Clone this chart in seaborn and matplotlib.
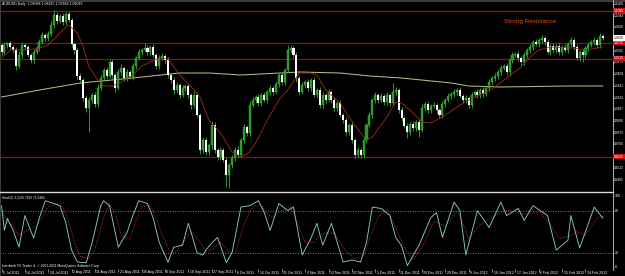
import numpy as np
import matplotlib
matplotlib.use("Agg")
import matplotlib.pyplot as plt
import matplotlib.transforms as mtrans
from matplotlib.lines import Line2D
from matplotlib.patches import Rectangle
import seaborn as sns

sns.set_style("dark", {"axes.facecolor": "black", "figure.facecolor": "black"})
plt.rcParams['font.family'] = ['Liberation Sans', 'DejaVu Sans']

# ---------------- data (AUDUSD daily) ----------------
first_open = 1.075
close = [
    1.068, 1.075, 1.077, 1.073, 1.070, 1.054, 1.065, 1.075, 1.073, 1.065,
    1.060, 1.068, 1.072, 1.078, 1.085, 1.082, 1.086, 1.095, 1.105, 1.099,
    1.104, 1.098, 1.106, 1.100, 1.076, 1.070, 1.044, 1.040, 1.022, 1.012,
    1.020, 1.025, 1.016, 1.032, 1.042, 1.050, 1.044, 1.058, 1.045, 1.032,
    1.048, 1.052, 1.042, 1.048, 1.043, 1.054, 1.062, 1.068, 1.070, 1.072,
    1.068, 1.073, 1.065, 1.054, 1.062, 1.064, 1.060, 1.045, 1.040, 1.030,
    1.035, 1.025, 1.032, 1.034, 1.025, 1.015, 1.025, 1.005, 0.970, 0.980,
    0.968, 0.975, 0.995, 0.970, 0.963, 0.970, 0.960, 0.945, 0.955, 0.962,
    0.970, 0.965, 0.980, 0.993, 0.987, 1.015, 1.020, 1.023, 1.017, 1.025,
    1.020, 1.028, 1.032, 1.028, 1.036, 1.045, 1.038, 1.050, 1.070, 1.072,
    1.065, 1.042, 1.028, 1.035, 1.038, 1.032, 1.040, 1.025, 1.030, 1.015,
    1.025, 1.020, 1.028, 1.020, 1.012, 1.017, 1.005, 1.000, 0.988, 0.995,
    0.980, 0.965, 0.970, 0.965, 0.980, 0.995, 1.005, 1.020, 1.025, 1.020,
    1.024, 1.018, 1.025, 1.017, 1.028, 1.030, 1.010, 1.002, 0.994, 0.988,
    0.996, 0.992, 0.998, 0.990, 1.012, 1.016, 1.010, 1.014, 1.015, 1.010,
    1.005, 1.016, 1.020, 1.024, 1.026, 1.028, 1.030, 1.024, 1.020, 1.022,
    1.015, 1.025, 1.028, 1.025, 1.030, 1.026, 1.032, 1.038, 1.042, 1.044,
    1.048, 1.052, 1.054, 1.048, 1.060, 1.065, 1.066, 1.062, 1.058, 1.065,
    1.070, 1.073, 1.078, 1.076, 1.080, 1.082, 1.078, 1.068, 1.074, 1.070,
    1.074, 1.068, 1.073, 1.070, 1.076, 1.080, 1.073, 1.062, 1.068, 1.065,
    1.072, 1.075, 1.078, 1.080, 1.075, 1.084, 1.082,
]
# upper / lower shadow lengths in pips
wick_up = [
    20, 30, 15, 25, 20, 30, 40, 35, 20, 25,
    20, 30, 25, 30, 35, 20, 30, 40, 50, 30,
    25, 30, 20, 30, 20, 25, 20, 30, 20, 35,
    30, 20, 30, 40, 30, 25, 30, 20, 35, 20,
    30, 40, 20, 30, 25, 30, 20, 30, 20, 50,
    30, 20, 35, 20, 30, 30, 25, 30, 20, 30,
    35, 20, 30, 25, 30, 20, 40, 30, 20, 35,
    30, 20, 40, 30, 25, 30, 20, 30, 25, 30,
    30, 40, 20, 30, 20, 40, 30, 25, 30, 20,
    30, 20, 35, 20, 30, 25, 30, 20, 50, 30,
    25, 30, 20, 35, 20, 30, 25, 30, 20, 30,
    35, 20, 30, 25, 30, 20, 30, 25, 30, 20,
    30, 20, 30, 25, 30, 20, 35, 20, 30, 25,
    30, 20, 35, 25, 90, 30, 20, 30, 25, 30,
    20, 30, 25, 30, 40, 20, 30, 25, 30, 20,
    25, 30, 20, 35, 20, 30, 25, 30, 20, 30,
    20, 35, 20, 30, 25, 30, 20, 30, 25, 30,
    20, 30, 25, 30, 20, 35, 20, 30, 25, 30,
    20, 30, 25, 30, 20, 30, 25, 35, 20, 30,
    25, 30, 20, 35, 20, 30, 25, 30, 20, 30,
    25, 30, 20, 30, 25, 30, 20,
]
wick_dn = [
    25, 20, 30, 20, 30, 35, 20, 25, 30, 20,
    30, 25, 20, 30, 20, 30, 25, 20, 30, 25,
    20, 30, 25, 20, 30, 35, 40, 30, 25, 40,
    240, 30, 25, 30, 20, 25, 30, 20, 30, 35,
    20, 30, 25, 30, 20, 25, 30, 20, 30, 20,
    30, 25, 20, 30, 25, 20, 30, 25, 30, 35,
    30, 25, 20, 30, 25, 35, 30, 20, 40, 30,
    30, 25, 40, 30, 25, 30, 20, 120, 130, 30,
    25, 30, 20, 30, 25, 30, 20, 30, 25, 30,
    20, 30, 25, 30, 20, 30, 25, 30, 20, 30,
    25, 35, 30, 20, 30, 25, 30, 20, 30, 25,
    30, 25, 20, 30, 25, 30, 20, 30, 25, 30,
    30, 25, 30, 30, 25, 30, 20, 30, 25, 30,
    20, 30, 25, 30, 20, 30, 25, 30, 20, 60,
    30, 25, 30, 70, 20, 30, 25, 30, 20, 30,
    30, 25, 30, 20, 30, 25, 30, 20, 30, 25,
    30, 25, 20, 30, 25, 30, 20, 30, 25, 30,
    25, 30, 20, 30, 25, 30, 20, 25, 30, 25,
    30, 25, 30, 20, 30, 25, 30, 20, 30, 25,
    30, 25, 30, 20, 30, 25, 30, 20, 30, 70,
    25, 30, 20, 30, 25, 30, 20,
]

ma_fast_bar = [0, 3, 12, 16, 20, 23, 26, 28, 30, 33, 35, 38, 41, 45, 48, 51, 54, 57, 59, 61,
               66, 68, 71, 75, 79, 82, 85, 88, 91, 95, 98, 102, 106, 108, 111, 116, 119, 123, 125, 127,
               132, 135, 137, 141, 144, 147, 151, 156, 160, 168, 173, 178, 181, 184, 188, 196, 200, 206]
ma_fast_val = [1.062, 1.070, 1.071, 1.075, 1.087, 1.095, 1.087, 1.073, 1.053, 1.040,
               1.034, 1.034, 1.038, 1.045, 1.054, 1.058, 1.062, 1.061, 1.053, 1.045,
               1.030, 1.023, 1.000, 0.987, 0.968, 0.963, 0.968, 0.982, 1.000, 1.020,
               1.030, 1.047, 1.047, 1.045, 1.030, 1.017, 1.003, 0.987, 0.980, 0.983,
               1.003, 1.018, 1.017, 1.007, 0.998, 0.997, 1.003, 1.013, 1.020, 1.031,
               1.042, 1.053, 1.063, 1.070, 1.073, 1.072, 1.070, 1.073]
ma_slow_bar = [0, 13, 27, 45, 61, 71, 82, 102, 116, 126, 137, 154, 160, 171, 194, 206]
ma_slow_val = [1.023, 1.030, 1.037, 1.042, 1.047, 1.047, 1.045, 1.048, 1.047, 1.044,
               1.042, 1.037, 1.034, 1.033, 1.034, 1.034]

stoch_main_bar = [0, 1, 2, 4, 6, 8, 11, 13, 15, 18, 20, 22, 24, 26, 29, 31, 34, 35, 37, 40,
                  43, 45, 47, 50, 52, 54, 57, 59, 62, 64, 67, 69, 70, 72, 74, 77, 79, 82, 85, 88,
                  90, 92, 95, 98, 100, 103, 106, 108, 110, 113, 117, 120, 123, 125, 127, 130, 133, 135, 137, 139,
                  143, 147, 149, 151, 155, 157, 159, 163, 167, 171, 173, 177, 179, 182, 187, 190, 194, 195, 198, 203,
                  206]
stoch_main_val = [87, 52, 69, 52, 28, 73, 41, 70, 94, 90, 87, 63, 24, 7, 6, 34, 87, 94, 87, 28,
                  49, 73, 94, 90, 69, 35, 7, 28, 31, 62, 20, 17, 24, 34, 42, 6, 21, 85, 87, 94,
                  77, 52, 90, 80, 85, 17, 41, 62, 31, 62, 7, 10, 7, 35, 85, 83, 73, 42, 30, 2,
                  31, 70, 77, 42, 92, 80, 17, 80, 56, 92, 73, 83, 66, 87, 73, 24, 38, 73, 27, 85,
                  69]
stoch_sig_bar = [0, 2, 4, 6, 8, 10, 12, 14, 16, 19, 21, 23, 25, 27, 30, 32, 35, 37, 39, 41,
                 44, 46, 48, 51, 53, 55, 58, 60, 63, 65, 68, 70, 72, 75, 78, 80, 83, 86, 89, 91,
                 93, 96, 99, 101, 104, 107, 109, 111, 114, 118, 121, 124, 126, 129, 132, 134, 136, 139, 141, 145,
                 148, 150, 152, 156, 158, 160, 164, 168, 172, 175, 178, 181, 184, 188, 191, 195, 197, 200, 204, 206]
stoch_sig_val = [80, 65, 58, 45, 50, 55, 58, 70, 85, 90, 85, 65, 35, 15, 12, 25, 70, 90, 75, 45,
                 40, 65, 85, 88, 70, 45, 20, 22, 40, 50, 35, 22, 25, 35, 22, 18, 60, 85, 88, 75,
                 70, 80, 85, 65, 35, 35, 45, 48, 48, 22, 12, 15, 40, 70, 82, 65, 45, 20, 10, 35,
                 65, 62, 58, 80, 62, 40, 60, 70, 80, 80, 75, 75, 80, 60, 40, 45, 50, 45, 70, 72]

price_ticks = [1.1160, 1.1043, 1.0926, 1.0692, 1.0575, 1.0458, 1.0341,
               1.0224, 1.0107, 0.9990, 0.9873, 0.9756, 0.9522, 0.9405]
level_lines = [1.1090, 1.0775, 1.0615, 0.9635]
current_price = 1.0820
stoch_levels = [80, 20]
stoch_ticks = [100, 80, 20, 0]
date_labels = ["5 Jul 2011", "14 Jul 2011", "24 Jul 2011", "2 Aug 2011", "11 Aug 2011",
               "21 Aug 2011", "30 Aug 2011", "8 Sep 2011", "18 Sep 2011", "27 Sep 2011",
               "6 Oct 2011", "16 Oct 2011", "25 Oct 2011", "3 Nov 2011", "13 Nov 2011",
               "22 Nov 2011", "1 Dec 2011", "11 Dec 2011", "20 Dec 2011", "29 Dec 2011",
               "9 Jan 2012", "18 Jan 2012", "27 Jan 2012", "6 Feb 2012", "15 Feb 2012",
               "24 Feb 2012"]
date_label_bar = [0, 8, 16, 24, 32, 40, 48, 56, 64, 72, 80, 88, 96, 104, 112, 120,
                  128, 136, 144, 152, 160, 168, 176, 184, 192, 200]

# ---------------- figure ----------------
W, H = 625, 276
fig = plt.figure(figsize=(W / 100, H / 100), dpi=100, facecolor="black")


def rect(x0, y0, x1, y1):
    return [x0 / W, 1 - y1 / H, (x1 - x0) / W, (y1 - y0) / H]


ax = fig.add_axes(rect(0, 1, 612, 191))
axs = fig.add_axes(rect(0, 193, 612, 269))
for a in (ax, axs):
    a.set_facecolor("black")
    a.set_xlim(-0.514, 209.08)
    a.set_xticks([])
    a.set_yticks([])
    for s in a.spines.values():
        s.set_visible(False)
ax.set_ylim(0.929, 1.119)
axs.set_ylim(-2.84, 104.96)

# candles
c = np.array(close)
o = np.r_[first_open, c[:-1]]
idx = np.arange(len(c))
hi = np.maximum(o, c) + np.array(wick_up) / 10000
lo = np.minimum(o, c) - np.array(wick_dn) / 10000
bull = c >= o
bear = ~bull
ax.vlines(idx, lo, hi, color="#2f962f", lw=0.7, zorder=3)
ax.bar(idx[bull], np.maximum(c - o, 0.0006)[bull], bottom=o[bull], width=0.7,
       color="#2c942c", edgecolor="#3cb83c", lw=0.3, zorder=4)
ax.bar(idx[bear], np.maximum(o - c, 0.0006)[bear], bottom=c[bear], width=0.7,
       color="white", lw=0, zorder=4)

# horizontal levels
for lv in level_lines:
    ax.axhline(lv, color="#8a1414", lw=0.9, zorder=2)

# moving averages
sns.lineplot(x=ma_slow_bar, y=ma_slow_val, ax=ax, color="#b8b886", lw=0.75, zorder=2, legend=False)
sns.lineplot(x=ma_fast_bar, y=ma_fast_val, ax=ax, color="#a02c1c", lw=0.6, zorder=5, legend=False)

# stochastic
for lv in stoch_levels:
    axs.axhline(lv, color="#9a9a9a", lw=0.6, ls=(0, (1, 2)))
sns.lineplot(x=stoch_sig_bar, y=stoch_sig_val, ax=axs, color="#c03030", lw=0.7,
             linestyle=(0, (1, 1.5)), legend=False)
sns.lineplot(x=stoch_main_bar, y=stoch_main_val, ax=axs, color="#8cc8b8", lw=0.65, legend=False)
axs.set_xlabel("")
axs.set_ylabel("")
ax.set_xlabel("")
ax.set_ylabel("")

# frame lines
fig.add_artist(Rectangle((0, 1 - 1.5 / H), 1, 1.5 / H, transform=fig.transFigure,
                         color="#3c3c3c", lw=0))
fig.add_artist(Rectangle((0, 0), 1.2 / W, 1, transform=fig.transFigure, color="#3c3c3c", lw=0))
fig.add_artist(Line2D([612.5 / W, 612.5 / W], [1 - 270 / H, 1], transform=fig.transFigure,
                      color="#b0b0b0", lw=0.7))
fig.add_artist(Line2D([0, 612.5 / W], [1 - 192 / H, 1 - 192 / H], transform=fig.transFigure,
                      color="#d8d8d8", lw=1.0))

# price axis labels
tm = mtrans.blended_transform_factory(fig.transFigure, ax.transData)
for p in price_ticks:
    fig.text(614 / W, p, f"{p:.4f}", transform=tm, color="white", fontsize=2.3, va="center", ha="left")
    fig.add_artist(Line2D([612.5 / W, 614 / W], [p, p], transform=tm, color="#b0b0b0", lw=0.5))
for lv in level_lines:
    fig.text(614 / W, lv, f"{lv:.4f}", transform=tm, color="white", fontsize=2.3, va="center",
             ha="left", bbox=dict(boxstyle="square,pad=0.3", fc="#d01010", ec="none"), zorder=10)
fig.text(614 / W, current_price, f"{current_price:.4f}", transform=tm, color="black", fontsize=2.3,
         va="center", ha="left", bbox=dict(boxstyle="square,pad=0.3", fc="white", ec="none"), zorder=10)

ts = mtrans.blended_transform_factory(fig.transFigure, axs.transData)
for v in stoch_ticks:
    fig.text(615 / W, v, str(v), transform=ts, color="white", fontsize=2.5, va="center", ha="left")
    fig.add_artist(Line2D([612.5 / W, 614 / W], [v, v], transform=ts, color="#b0b0b0", lw=0.5))

# date labels
td = mtrans.blended_transform_factory(axs.transData, fig.transFigure)
for b, lab in zip(date_label_bar, date_labels):
    fig.add_artist(Line2D([b, b], [1 - 268.5 / H, 1 - 271.5 / H], transform=td, color="#b0b0b0", lw=0.5))
    fig.text(b + 0.5, 1 - 272.5 / H, lab, transform=td, color="white", fontsize=2.5, va="center", ha="left")

# texts
fig.text(2 / W, 1 - 4.5 / H, "AUDUSD,Daily  1.08088 1.08415 1.07884 1.08043", color="white",
         fontsize=2.5, va="center", ha="left")
fig.text(504 / W, 1 - 21 / H, "Strong Resistance", color="#e04a22", fontsize=4.6, va="center", ha="left")
fig.text(2 / W, 1 - 197.5 / H, "Stoch(5,3,3) 65.7912 71.9466", color="white", fontsize=2.3,
         va="center", ha="left")
fig.text(2 / W, 1 - 266 / H, "Interbank FX Trader 4, \u00a9 2001-2011 MetaQuotes Software Corp.",
         color="white", fontsize=2.4, va="center", ha="left")

fig.savefig("out.png", dpi=100, facecolor="black")
